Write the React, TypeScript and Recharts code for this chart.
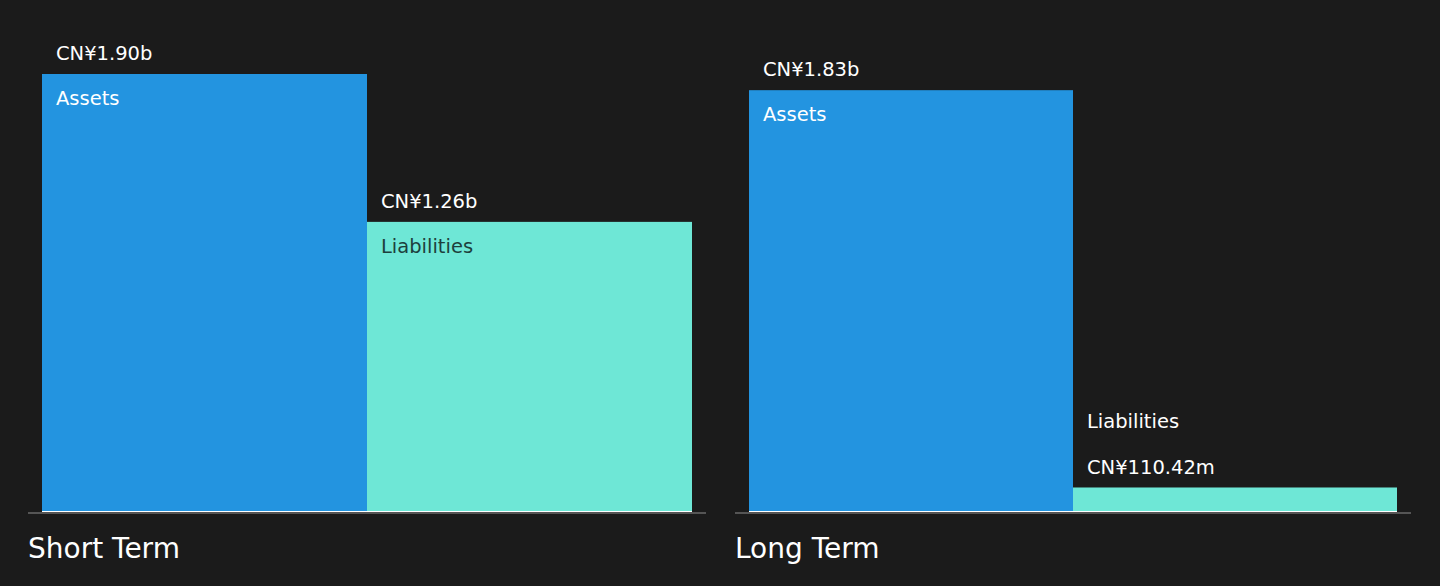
import React from "react";
import { BarChart, Bar, XAxis, YAxis } from "recharts";

const CATEGORIES = ["Assets", "Liabilities"];
const SHORT_TERM_VALUES = [1.9, 1.26];
const LONG_TERM_VALUES = [1.83, 0.11042];
const SHORT_TERM_LABELS = ["CN¥1.90b", "CN¥1.26b"];
const LONG_TERM_LABELS = ["CN¥1.83b", "CN¥110.42m"];
const PANEL_TITLES = ["Short Term", "Long Term"];

const BG = "#1b1b1b";
const COLORS = ["#2394e0", "#6ee7d6"];
const FONT = "'DejaVu Sans', sans-serif";

function buildRows(values: number[], labels: string[]) {
    return CATEGORIES.map((name, i) => ({ name, value: values[i], label: labels[i] }));
}

// rect + thin white foot line + value/name labels
function BarShape(props: any) {
    const { x, y, width, height, index, payload } = props;
    const fill = COLORS[index % COLORS.length];
    const tall = height > 60;
    const nameColor = tall && index === 1 ? "#1d3f3c" : "#ffffff";
    return (
        <g>
            <rect x={x} y={y} width={width} height={height} fill={fill} />
            <rect x={x} y={y + height - 2} width={width} height={2} fill="#ffffff" />
            {tall ? (
                <>
                    <text x={x + 14} y={y - 14} fill="#ffffff" fontSize={19.5} fontFamily={FONT}>{payload.label}</text>
                    <text x={x + 14} y={y + 31} fill={nameColor} fontSize={19.5} fontFamily={FONT}>{payload.name}</text>
                </>
            ) : (
                <>
                    <text x={x + 14} y={y - 13} fill="#ffffff" fontSize={19.5} fontFamily={FONT}>{payload.label}</text>
                    <text x={x + 14} y={y - 59} fill={nameColor} fontSize={19.5} fontFamily={FONT}>{payload.name}</text>
                </>
            )}
        </g>
    );
}

function Panel({ rows, width }: { rows: any[]; width: number }) {
    return (
        <BarChart width={width} height={520} data={rows} margin={{ top: 74, right: 0, bottom: 6, left: 0 }} barCategoryGap={0}>
            <XAxis dataKey="name" tick={false} height={1} axisLine={{ stroke: "#555555", strokeWidth: 2 }} tickLine={false} padding={{ left: 14, right: 14 }} />
            <YAxis hide domain={[0, 1.9]} />
            <Bar dataKey="value" isAnimationActive={false} shape={<BarShape />} />
        </BarChart>
    );
}

export default function App() {
    const panels = [
        { rows: buildRows(SHORT_TERM_VALUES, SHORT_TERM_LABELS), left: 28, width: 678 },
        { rows: buildRows(LONG_TERM_VALUES, LONG_TERM_LABELS), left: 735, width: 676 },
    ];
    return (
        <div style={{ position: "fixed", top: 0, left: 0, width: 1440, height: 586, background: BG, overflow: "hidden" }}>
            {panels.map((p, i) => (
                <div key={i} style={{ position: "absolute", left: p.left, top: 0 }}>
                    <Panel rows={p.rows} width={p.width} />
                    <div style={{ position: "absolute", left: 0, top: 532, color: "#ffffff", fontFamily: FONT, fontSize: 28, whiteSpace: "nowrap" }}>
                        {PANEL_TITLES[i]}
                    </div>
                </div>
            ))}
        </div>
    );
}
